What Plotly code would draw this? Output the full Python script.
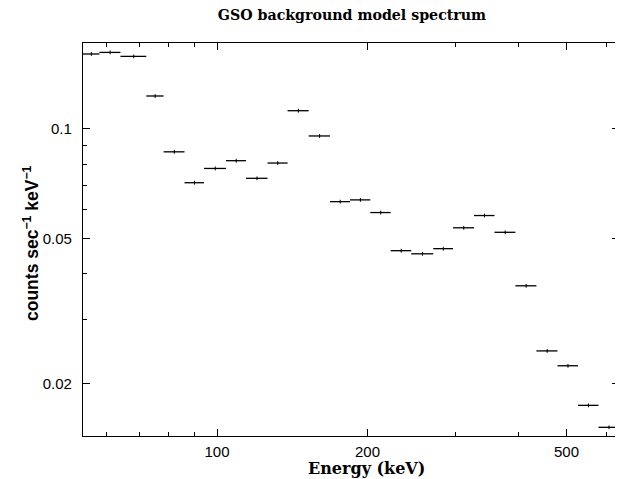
import math
import plotly.graph_objects as go

# Bin edges (keV) and model rate (counts/s/keV)
e_lo = [53.95, 58.2, 64.1, 72.2, 78.2, 86.1, 94.2, 104.2, 114.3, 126.2, 138.4, 152.5, 168.3,
        184.5, 202.6, 222.5, 244.6, 270.7, 296.5, 326.6, 358.9, 395.2, 435.3, 479.7, 527.2, 579.4]
e_hi = [58.2, 64.1, 72.2, 78.2, 86.1, 94.2, 104.2, 114.3, 126.2, 138.4, 152.5, 168.3, 184.5,
        202.6, 222.5, 244.6, 270.7, 296.5, 326.6, 358.9, 395.2, 435.3, 479.7, 527.2, 579.4, 636.8]
rate = [0.1602, 0.1618, 0.1578, 0.1229, 0.0864, 0.0711, 0.0778, 0.0817, 0.0731, 0.0805, 0.1120,
        0.0955, 0.0631, 0.0638, 0.0589, 0.0463, 0.0454, 0.0469, 0.0535, 0.0578, 0.0520, 0.0371,
        0.0246, 0.0224, 0.01745, 0.01519]
rate_err = [r * 0.012 for r in rate]

x_major = [100, 200, 500]
x_major_text = ["100", "200", "500"]
x_minor = [60, 70, 80, 90, 300, 400, 600]
y_major = [0.02, 0.05, 0.1]
y_major_text = ["0.02", "0.05", "0.1"]
y_minor = [0.03, 0.04, 0.06, 0.07, 0.08, 0.09]

x_mid = [(a + b) / 2 for a, b in zip(e_lo, e_hi)]
err_plus = [b - m for b, m in zip(e_hi, x_mid)]
err_minus = [m - a for a, m in zip(e_lo, x_mid)]

xr = [math.log10(53.95), math.log10(636.8)]
yr = [math.log10(0.01438), math.log10(0.1717)]

fig = go.Figure()
fig.add_trace(go.Scatter(
    x=x_mid, y=rate, mode="markers",
    marker=dict(size=1, color="black"),
    error_x=dict(type="data", symmetric=False, array=err_plus, arrayminus=err_minus,
                 color="black", thickness=1.3, width=0),
    error_y=dict(type="data", array=rate_err, color="black", thickness=1, width=0),
    showlegend=False, hoverinfo="x+y",
))
# empty trace to anchor the minor-tick overlay axes
fig.add_trace(go.Scatter(x=[], y=[], xaxis="x2", yaxis="y2", showlegend=False))

tickfont = dict(family="Liberation Sans", size=15, color="black")

# the page body adds an 8px offset, so the figure is 8px smaller in each direction
W, H = 615, 471

fig.update_layout(
    width=W, height=H, autosize=False,
    margin=dict(l=75, r=4, t=35, b=43),
    plot_bgcolor="white", paper_bgcolor="white",
    title=dict(text="<b>GSO background model spectrum</b>", x=344 / W, xref="container",
               xanchor="center", y=1 - 7.5 / H, yref="container", yanchor="middle",
               font=dict(family="DejaVu Serif", size=14.2, color="black")),
    xaxis=dict(
        type="log", range=xr, automargin=False,
        tickmode="array", tickvals=x_major, ticktext=x_major_text,
        showline=True, linecolor="black", linewidth=1.3, mirror="allticks",
        ticks="inside", ticklen=7, tickwidth=1.3, tickcolor="black",
        showgrid=False, zeroline=False, tickfont=tickfont, ticklabelstandoff=2,
    ),
    yaxis=dict(
        type="log", range=yr, automargin=False,
        tickmode="array", tickvals=y_major, ticktext=y_major_text,
        showline=True, linecolor="black", linewidth=1.3, mirror="allticks",
        ticks="inside", ticklen=7, tickwidth=1.3, tickcolor="black",
        showgrid=False, zeroline=False, tickfont=tickfont, ticklabelstandoff=7,
    ),
    xaxis2=dict(
        type="log", range=xr, overlaying="x", automargin=False,
        tickmode="array", tickvals=x_minor, showticklabels=False,
        showline=False, mirror="allticks", ticks="inside", ticklen=4,
        tickwidth=1.2, tickcolor="black", showgrid=False, zeroline=False,
    ),
    yaxis2=dict(
        type="log", range=yr, overlaying="y", automargin=False,
        tickmode="array", tickvals=y_minor, showticklabels=False,
        showline=False, mirror="allticks", ticks="inside", ticklen=4,
        tickwidth=1.2, tickcolor="black", showgrid=False, zeroline=False,
    ),
    annotations=[
        dict(text="<b>Energy (keV)</b>", xref="paper", yref="paper",
             x=(366 - 83) / 536, y=(436 - 468.5) / 393, xanchor="center", yanchor="middle",
             showarrow=False, font=dict(family="DejaVu Serif", size=16, color="black")),
        dict(text="<b>counts sec<sup>−1</sup> keV<sup>−1</sup></b>", xref="paper", yref="paper",
             x=(31 - 83) / 536, y=(436 - 243) / 393, xanchor="center", yanchor="middle",
             textangle=-90, showarrow=False,
             font=dict(family="Liberation Sans", size=17.5, color="black")),
    ],
)

fig.write_html("out.html")
